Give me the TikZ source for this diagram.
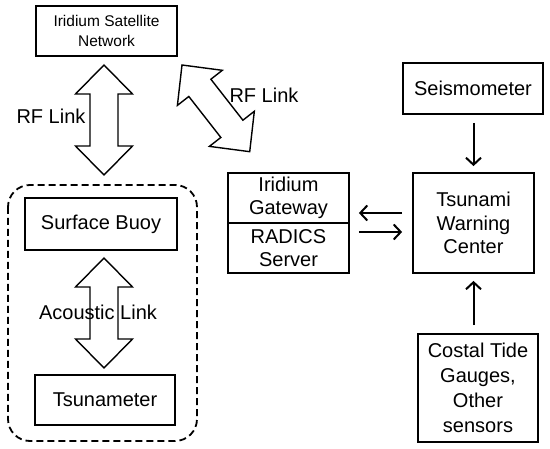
\documentclass[tikz,border=0pt]{standalone}
\usepackage{fontspec}
\setmainfont{Liberation Sans}
\usetikzlibrary{arrows.meta,calc}
\begin{document}
\begin{tikzpicture}[x=1pt,y=-1pt,
  box/.style={draw,line width=1.8pt,inner sep=0pt,align=center,
    font=\fontsize{20}{23.5}\selectfont},
  lbl/.style={inner sep=0pt,font=\fontsize{20}{24}\selectfont},
  thin arrow/.style={line width=2pt,-{Straight Barb[length=7pt,width=15pt,line width=2pt]}},
  fatarrow/.pic={\draw[line width=1.4pt,line join=miter]
    (0,0) -- (29,28.5) -- (29,14) -- (81,14) -- (81,28.5) -- (110,0)
    -- (81,-28.5) -- (81,-14) -- (29,-14) -- (29,-28.5) -- cycle;}]
\useasboundingbox (0,0) rectangle (550,449);
% group
\draw[line width=1.8pt,dash pattern=on 7pt off 4pt,rounded corners=22pt]
  (8,185) rectangle (197,441);
% nodes
\node[box,minimum width=141pt,minimum height=50pt,font=\fontsize{15.5}{20}\selectfont]
  (sat) at (106.5,31) {Iridium Satellite\\Network};
\node[box,minimum width=152pt,minimum height=52pt] (buoy) at (101,224) {Surface Buoy};
\node[box,minimum width=140pt,minimum height=50pt] (tsu) at (105,400) {Tsunameter};
\node[box,minimum width=121pt,minimum height=50pt] (gwtop) at (288.5,198) {Iridium\\Gateway};
\node[box,minimum width=121pt,minimum height=50pt] (gwbot) at (288.5,248) {RADICS\\Server};
\node[box,minimum width=121pt,minimum height=100pt] (twc) at (473.5,223) {Tsunami\\Warning\\Center};
\node[box,minimum width=140pt,minimum height=51pt] (seis) at (473,88.5) {Seismometer};
\node[box,minimum width=120pt,minimum height=108pt,font=\fontsize{20}{25}\selectfont]
  (tide) at (478,388) {Costal Tide\\Gauges,\\Other\\sensors};
% fat arrows
\pic[rotate=-90] at (104,65) {fatarrow};
\pic[rotate=-90] at (104,258) {fatarrow};
\pic[rotate=-52] at (182,65) {fatarrow};
\node[lbl] (rf1) at (51,116) {RF Link};
\node[lbl] (rf2) at (264,95) {RF Link};
\node[lbl] (ac) at (98,312) {Acoustic Link};
% thin arrows
\draw[thin arrow,shorten <=8pt,shorten >=6pt] (seis.south -| twc.north) -- (twc.north);
\draw[thin arrow,shorten <=8pt,shorten >=7pt] (tide.north -| twc.south) -- (twc.south);
\draw[thin arrow,shorten <=10pt,shorten >=9pt] ($(twc.west)+(0,-10)$) -- ($(gwtop.east |- twc.west)+(0,-10)$);
\draw[thin arrow,shorten <=9pt,shorten >=10pt] ($(gwtop.east |- twc.west)+(0,9)$) -- ($(twc.west)+(0,9)$);
\end{tikzpicture}
\end{document}
